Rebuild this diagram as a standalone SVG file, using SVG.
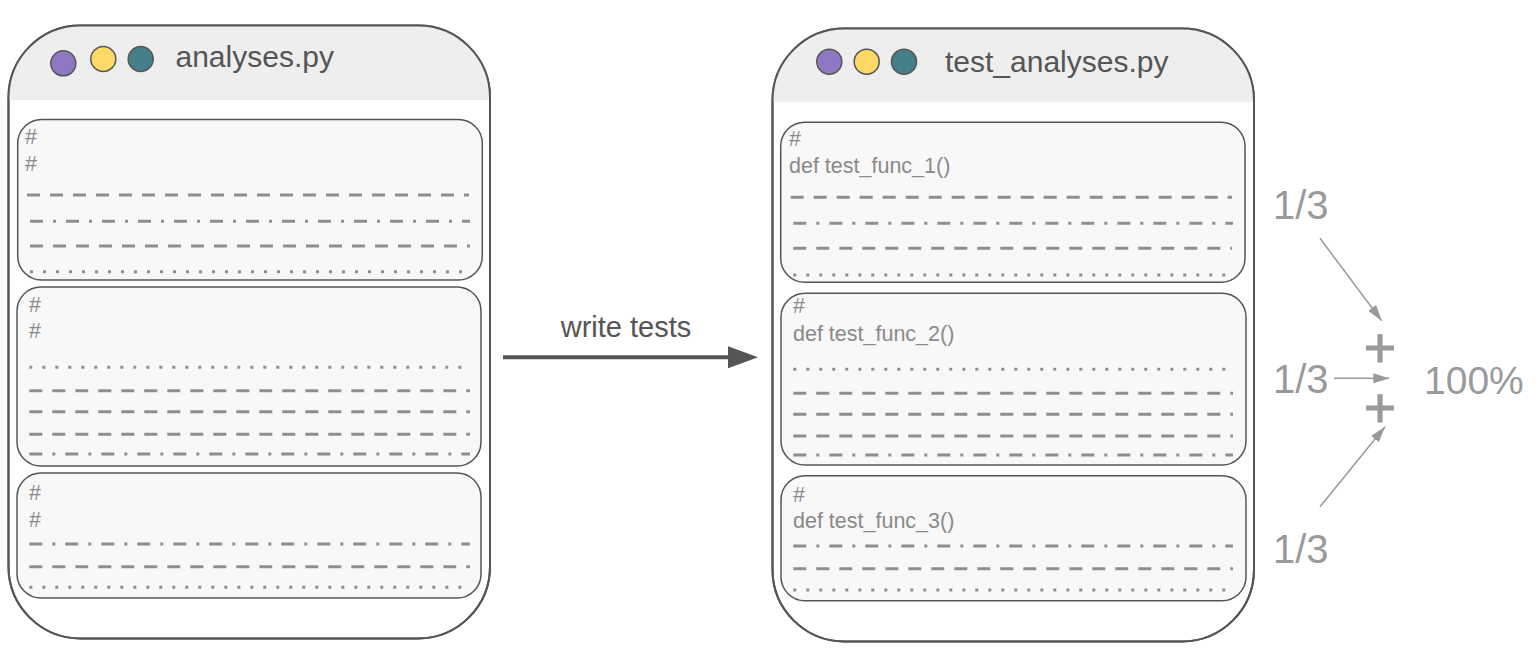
<svg xmlns="http://www.w3.org/2000/svg" width="1540" height="654" viewBox="0 0 1540 654">
  <style>
    .win { fill: #ffffff; stroke: #555555; stroke-width: 2; }
    .bar { fill: #eeeeee; }
    .blk { fill: #f8f8f8; stroke: #555555; stroke-width: 1.5; }
    .ln { stroke: #8e8e8e; stroke-width: 3; fill: none; }
    .dash { stroke-dasharray: 13 10; }
    .dashdot { stroke-dasharray: 13 10 3 10; }
    .dot { stroke-dasharray: 3 10; }
    .title { font-family: "Liberation Sans", Arial, sans-serif; font-size: 30px; fill: #555555; }
    .code { font-family: "Liberation Sans", Arial, sans-serif; font-size: 21.5px; fill: #8a8a8a; }
    .big { font-family: "Liberation Sans", Arial, sans-serif; font-size: 40px; fill: #9a9a9a; }
    .plus { font-family: "Liberation Sans", Arial, sans-serif; font-size: 55px; fill: #9a9a9a; stroke: #9a9a9a; stroke-width: 1.2; text-anchor: middle; }
    .lbl { font-family: "Liberation Sans", Arial, sans-serif; font-size: 29px; fill: #555555; text-anchor: middle; }
    .c-purple { fill: #8e78c4; stroke: #555555; stroke-width: 1.5; }
    .c-yellow { fill: #ffd966; stroke: #555555; stroke-width: 1.5; }
    .c-teal { fill: #44808a; stroke: #555555; stroke-width: 1.5; }
    .thin { stroke: #9a9a9a; stroke-width: 1.5; fill: none; }
    .thick { stroke: #555555; stroke-width: 4; fill: none; }
  </style>
  <defs>
    <clipPath id="clipL"><rect x="8.5" y="25.5" width="481.5" height="613" rx="72" ry="72"/></clipPath>
    <clipPath id="clipR"><rect x="772.5" y="28.5" width="481.5" height="613" rx="72" ry="72"/></clipPath>
    <marker id="arrS" viewBox="0 0 16 10" refX="16" refY="5" markerWidth="16" markerHeight="10" markerUnits="userSpaceOnUse" orient="auto">
      <path d="M0,0 L16,5 L0,10 Z" fill="#9a9a9a"/>
    </marker>
    <marker id="arrB" viewBox="0 0 30 22" refX="2" refY="11" markerWidth="30" markerHeight="22" markerUnits="userSpaceOnUse" orient="auto">
      <path d="M0,0 L30,11 L0,22 Z" fill="#555555"/>
    </marker>
  </defs>

  <!-- Left window: analyses.py -->
  <g id="window-analyses">
    <rect class="win" x="8.5" y="25.5" width="481.5" height="613" rx="72" ry="72"/>
    <rect class="bar" x="8.5" y="25.5" width="481.5" height="74.5" clip-path="url(#clipL)"/>
    <rect x="8.5" y="25.5" width="481.5" height="613" rx="72" ry="72" fill="none" stroke="#555555" stroke-width="2"/>
    <circle class="c-purple" cx="63.3" cy="63.3" r="12.5"/>
    <circle class="c-yellow" cx="103.3" cy="59" r="12.5"/>
    <circle class="c-teal" cx="140.7" cy="59" r="12.5"/>
    <text class="title" x="175.5" y="67">analyses.py</text>
  </g>
  <g id="left-block-1">
    <rect class="blk" x="17.7" y="119.5" width="464.6" height="160.5" rx="24" ry="24"/>
    <text class="code" x="25" y="144">#</text>
    <text class="code" x="25" y="171">#</text>
    <line class="ln dash" x1="27" y1="195" x2="469" y2="195"/>
    <line class="ln dashdot" x1="30" y1="221.3" x2="470" y2="221.3"/>
    <line class="ln dash" x1="30" y1="246" x2="470" y2="246"/>
    <line class="ln dot" x1="30" y1="271.7" x2="469" y2="271.7"/>
  </g>
  <g id="left-block-2">
    <rect class="blk" x="17" y="287" width="464" height="179" rx="24" ry="24"/>
    <text class="code" x="29" y="311.7">#</text>
    <text class="code" x="29" y="338.3">#</text>
    <line class="ln dot" x1="29.3" y1="367.3" x2="469" y2="367.3"/>
    <line class="ln dash" x1="29.3" y1="390.7" x2="470" y2="390.7"/>
    <line class="ln dash" x1="29.3" y1="411.7" x2="470" y2="411.7"/>
    <line class="ln dash" x1="29.3" y1="434.3" x2="470" y2="434.3"/>
    <line class="ln dashdot" x1="29.3" y1="454" x2="470" y2="454"/>
  </g>
  <g id="left-block-3">
    <rect class="blk" x="17" y="473" width="464" height="125" rx="24" ry="24"/>
    <text class="code" x="29" y="500">#</text>
    <text class="code" x="29" y="526.7">#</text>
    <line class="ln dashdot" x1="29.3" y1="544" x2="470" y2="544"/>
    <line class="ln dash" x1="29.3" y1="566.7" x2="470" y2="566.7"/>
    <line class="ln dot" x1="29.3" y1="587.3" x2="469" y2="587.3"/>
  </g>

  <!-- Right window: test_analyses.py -->
  <g id="window-test-analyses">
    <rect class="win" x="772.5" y="28.5" width="481.5" height="613" rx="72" ry="72"/>
    <rect class="bar" x="772.5" y="28.5" width="481.5" height="73.5" clip-path="url(#clipR)"/>
    <rect x="772.5" y="28.5" width="481.5" height="613" rx="72" ry="72" fill="none" stroke="#555555" stroke-width="2"/>
    <circle class="c-purple" cx="829.3" cy="61.7" r="12.5"/>
    <circle class="c-yellow" cx="866.7" cy="61.7" r="12.5"/>
    <circle class="c-teal" cx="904" cy="61.7" r="12.5"/>
    <text class="title" x="945" y="72">test_analyses.py</text>
  </g>
  <g id="right-block-1">
    <rect class="blk" x="780.7" y="122.3" width="464.3" height="160" rx="24" ry="24"/>
    <text class="code" x="789" y="146">#</text>
    <text class="code" x="789" y="173">def test_func_1()</text>
    <line class="ln dash" x1="790.7" y1="197.3" x2="1232" y2="197.3"/>
    <line class="ln dashdot" x1="793.3" y1="223.3" x2="1233" y2="223.3"/>
    <line class="ln dash" x1="793.3" y1="248.3" x2="1232" y2="248.3"/>
    <line class="ln dot" x1="793.3" y1="275" x2="1232" y2="275"/>
  </g>
  <g id="right-block-2">
    <rect class="blk" x="781" y="293.3" width="465" height="171.7" rx="24" ry="24"/>
    <text class="code" x="793" y="313.3">#</text>
    <text class="code" x="793" y="341">def test_func_2()</text>
    <line class="ln dot" x1="793.3" y1="369.3" x2="1232" y2="369.3"/>
    <line class="ln dash" x1="793.3" y1="393.3" x2="1233" y2="393.3"/>
    <line class="ln dash" x1="793.3" y1="414.3" x2="1233" y2="414.3"/>
    <line class="ln dash" x1="793.3" y1="436" x2="1233" y2="436"/>
    <line class="ln dashdot" x1="793.3" y1="455" x2="1233" y2="455"/>
  </g>
  <g id="right-block-3">
    <rect class="blk" x="781" y="475.7" width="465" height="125" rx="24" ry="24"/>
    <text class="code" x="793" y="501.7">#</text>
    <text class="code" x="793" y="528.3">def test_func_3()</text>
    <line class="ln dashdot" x1="793.3" y1="546" x2="1233" y2="546"/>
    <line class="ln dash" x1="793.3" y1="568.7" x2="1233" y2="568.7"/>
    <line class="ln dot" x1="793.3" y1="590" x2="1232" y2="590"/>
  </g>

  <!-- Score labels -->
  <g id="frac-1"><text class="big" x="1273" y="219.3">1/3</text></g>
  <g id="frac-2"><text class="big" x="1273" y="392.7">1/3</text></g>
  <g id="frac-3"><text class="big" x="1273" y="563.3">1/3</text></g>
  <g id="plus-1"><text class="plus" x="1380" y="366.5">+</text></g>
  <g id="plus-2"><text class="plus" x="1380" y="427.3">+</text></g>
  <g id="total"><text class="big" x="1424" y="394" style="font-size:39px">100%</text></g>

  <!-- Connectors -->
  <g id="connectors">
    <line class="thick" x1="503" y1="357.3" x2="730" y2="357.3" marker-end="url(#arrB)"/>
    <text class="lbl" x="626" y="336.7">write tests</text>
    <line class="thin" x1="1320" y1="238.3" x2="1381.7" y2="320.7" marker-end="url(#arrS)"/>
    <line class="thin" x1="1334" y1="378.3" x2="1389.3" y2="378.3" marker-end="url(#arrS)"/>
    <line class="thin" x1="1320" y1="506.7" x2="1385" y2="426.7" marker-end="url(#arrS)"/>
  </g>
</svg>
